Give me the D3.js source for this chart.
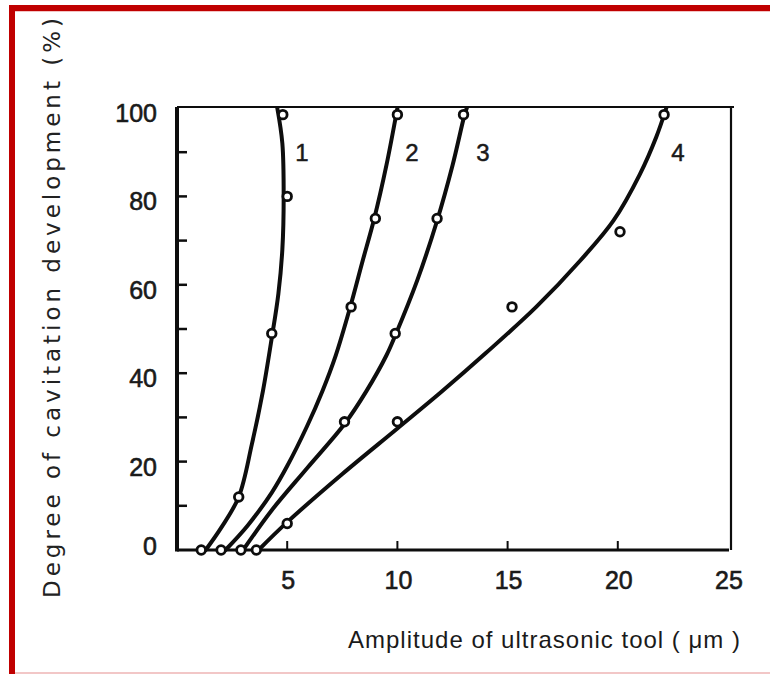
<!DOCTYPE html>
<html><head><meta charset="utf-8">
<script src="https://cdn.jsdelivr.net/npm/d3@7"></script>
<style>body{margin:0;background:#fff}svg{display:block}</style>
</head><body>
<svg id="c" width="770" height="674"></svg>
<script>
// ---- data ----
const seriesNames = ["1", "2", "3", "4"];
const xTickValues = [5, 10, 15, 20, 25];
const yTickValues = [0, 20, 40, 60, 80, 100];
const yMinorTickValues = [10, 30, 50, 70, 90];
const labelY = 90;
const labelX = [5.67, 10.66, 13.88, 22.73];

// measured points (open circles)
const markers1 = [[1.1, 0], [2.8, 12], [4.3, 49], [5.0, 80], [4.8, 98.5]];
const markers2 = [[2.0, 0], [7.9, 55], [9.0, 75], [10.0, 98.5]];
const markers3 = [[2.9, 0], [7.6, 29], [9.9, 49], [11.8, 75], [13.0, 98.5]];
const markers4 = [[3.6, 0], [5.0, 6], [10.0, 29], [15.2, 55], [20.1, 72], [22.1, 98.5]];

// fitted curves
const curve1 = [[1.3, 0], [2.0, 5], [2.8, 12], [3.4, 24], [3.9, 36], [4.3, 48], [4.6, 58], [4.78, 68], [4.84, 80], [4.78, 92], [4.55, 100]];
const curve2 = [[2.2, 0], [3.2, 5.5], [4.3, 13], [5.0, 19], [5.9, 28], [6.6, 36], [7.2, 44], [7.86, 55], [8.4, 65], [8.95, 75], [9.5, 87], [10.0, 100]];
const curve3 = [[3.0, 0], [4.3, 9], [5.9, 18.5], [7.6, 28.5], [8.6, 36], [9.5, 44], [9.9, 48.5], [10.9, 61], [11.8, 74.5], [12.5, 87], [13.05, 98.5], [13.15, 100]];
const curve4 = [[3.7, 0], [5.0, 6.3], [7.5, 17.2], [10, 27.5], [12, 35.8], [14, 44.5], [16.3, 55], [18.3, 65.5], [19.8, 74.5], [21.0, 85], [21.75, 93.5], [22.2, 100]];

const markerSets = [markers1, markers2, markers3, markers4];
const curveSets = [curve1, curve2, curve3, curve4];

// ---- drawing ----
const svg = d3.select("#c");
const x = d3.scaleLinear().domain([0, 25]).range([177, 728]);
const y = d3.scaleLinear().domain([0, 100]).range([550, 108]);

// red frame of the figure
svg.append("rect").attr("x", 9).attr("y", 5).attr("width", 770).attr("height", 6).attr("fill", "#c00000");
svg.append("rect").attr("x", 9).attr("y", 5).attr("width", 6).attr("height", 669).attr("fill", "#c00000");
svg.append("line").attr("x1", 15).attr("x2", 770).attr("y1", 11.5).attr("y2", 11.5).attr("stroke", "#f2c4c4").attr("stroke-width", 1);
svg.append("line").attr("x1", 15).attr("x2", 770).attr("y1", 673).attr("y2", 673).attr("stroke", "#eeb4b4").attr("stroke-width", 1.5);

const g = svg.append("g");
const ink = "#0d0d0d";

// plot frame
g.append("line").attr("x1", x(0)).attr("x2", x(0)).attr("y1", y(100) - 1).attr("y2", y(0) + 1.5).attr("stroke", ink).attr("stroke-width", 4);
g.append("line").attr("x1", x(0)).attr("x2", x(25) + 1).attr("y1", y(0)).attr("y2", y(0)).attr("stroke", ink).attr("stroke-width", 3);
g.append("line").attr("x1", x(0)).attr("x2", x(25) + 6).attr("y1", y(100) - 1).attr("y2", y(100) - 1).attr("stroke", ink).attr("stroke-width", 2);
g.append("line").attr("x1", x(25) + 3).attr("x2", x(25) + 3).attr("y1", y(100) - 1).attr("y2", y(0)).attr("stroke", ink).attr("stroke-width", 2.2);

// y ticks (inward)
g.selectAll(".ytick").data(yTickValues.filter(v => v > 0 && v < 100).concat(yMinorTickValues))
  .join("line").attr("x1", x(0)).attr("x2", x(0) + 10)
  .attr("y1", d => y(d)).attr("y2", d => y(d)).attr("stroke", ink).attr("stroke-width", 2.5);
// x ticks (inward)
g.selectAll(".xtick").data(xTickValues.filter(v => v < 25))
  .join("line").attr("x1", d => x(d)).attr("x2", d => x(d))
  .attr("y1", y(0)).attr("y2", y(0) - 9).attr("stroke", ink).attr("stroke-width", 2);

const tickFont = "'Liberation Sans', Arial, sans-serif";
g.selectAll(".ylab").data(yTickValues).join("text")
  .attr("x", x(0) - 20).attr("y", d => y(d) + (d === 0 ? 5 : 14))
  .attr("text-anchor", "end").attr("font-family", tickFont).attr("font-size", 25)
  .attr("fill", "#1a1a1a").attr("stroke", "#1a1a1a").attr("stroke-width", 0.6).text(d => d);
g.selectAll(".xlab").data(xTickValues).join("text")
  .attr("x", d => x(d) + 1).attr("y", y(0) + 39)
  .attr("text-anchor", "middle").attr("font-family", tickFont).attr("font-size", 25)
  .attr("fill", "#1a1a1a").attr("stroke", "#1a1a1a").attr("stroke-width", 0.6).text(d => d);

// curves
const line = d3.line().x(d => x(d[0])).y(d => y(d[1])).curve(d3.curveCatmullRom.alpha(0.5));
g.selectAll(".curve").data(curveSets).join("path")
  .attr("d", line).attr("fill", "none").attr("stroke", ink).attr("stroke-width", 4)
  .attr("stroke-linecap", "round");

// markers
markerSets.forEach(ms => {
  g.selectAll(null).data(ms).join("circle")
    .attr("cx", d => x(d[0])).attr("cy", d => y(d[1])).attr("r", 4.3)
    .attr("fill", "#fff").attr("stroke", ink).attr("stroke-width", 2.8);
});

// curve numbers
g.selectAll(".num").data(seriesNames).join("text")
  .attr("x", (d, i) => x(labelX[i])).attr("y", y(labelY) + 9)
  .attr("text-anchor", "middle").attr("font-family", tickFont).attr("font-size", 24)
  .attr("fill", "#1a1a1a").attr("stroke", "#1a1a1a").attr("stroke-width", 0.5).text(d => d);

// axis titles
svg.append("text")
  .attr("transform", "translate(60,598) rotate(-90)")
  .attr("font-family", "'DejaVu Sans', Verdana, sans-serif").attr("font-size", 23)
  .attr("fill", "#222").attr("textLength", 580).attr("lengthAdjust", "spacing")
  .text("Degree of cavitation development (%)");
svg.append("text")
  .attr("x", 348).attr("y", 648)
  .attr("font-family", "'Liberation Sans', Arial, sans-serif").attr("font-size", 24)
  .attr("fill", "#1a1a1a").attr("textLength", 392).attr("lengthAdjust", "spacing")
  .text("Amplitude of ultrasonic tool ( μm )");
</script>
</body></html>
